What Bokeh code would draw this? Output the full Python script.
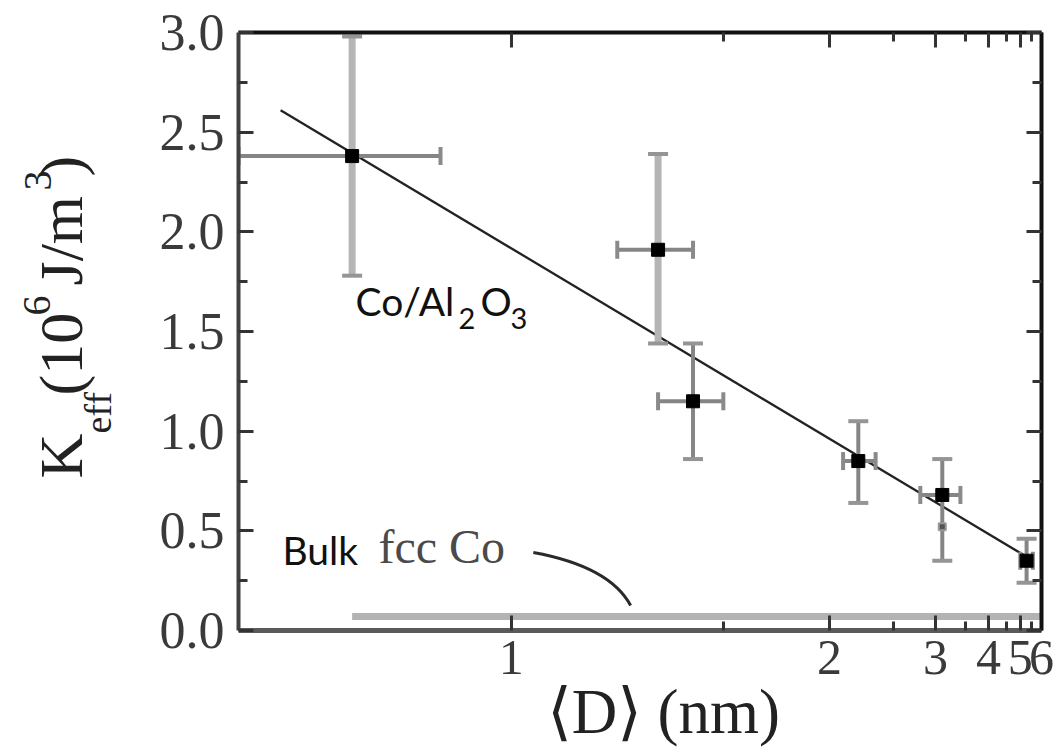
import math
from bokeh.plotting import figure
from bokeh.layouts import row, column
from bokeh.models import (Range1d, LinearAxis, FixedTicker, CustomJSTickFormatter,
                          PrintfTickFormatter, Label, ColumnDataSource)
from bokeh.embed import file_html
from bokeh.resources import INLINE

# ---------------- data ----------------
D_nm      = [0.8, 1.3, 1.4, 2.2, 3.1, 5.26]      # mean particle size <D> (nm)
K_eff     = [2.38, 1.91, 1.15, 0.85, 0.68, 0.35]  # K_eff (10^6 J/m^3)
D_low     = [0.7, 1.2, 1.3, 2.09, 2.80, 5.0]
D_high    = [0.9, 1.4, 1.5, 2.34, 3.40, 5.55]
K_low     = [1.78, 1.44, 0.86, 0.64, 0.35, 0.24]
K_high    = [2.98, 2.39, 1.44, 1.05, 0.86, 0.46]
vbar_kind = ["light", "light", "dark", "dark", "dark", "dark"]

extra_D = [3.1]      # faint secondary point
extra_K = [0.52]

fit_D = [0.734, 5.26]   # linear fit (straight in 1/D)
fit_K = [2.61, 0.37]

bulk_D = [0.8, 6.0]     # bulk fcc Co anisotropy
bulk_K = [0.07, 0.07]

leader_D = [1.036, 1.183, 1.231]   # start, control, end of the pointer curve
leader_K = [0.391, 0.321, 0.125]

x_major_D = [1, 2, 3, 4, 5, 6]
x_minor_D = [1.5, 2.5, 3.5, 4.5, 5.5]
y_major = [0.0, 0.5, 1.0, 1.5, 2.0, 2.5, 3.0]
y_minor = [0.25, 0.75, 1.25, 1.75, 2.25, 2.75]

x_title = "\u27e8D\u27e9 (nm)"
D_MIN, D_MAX = 0.7, 6.0
# ----------------------------------------------------------------

inv = lambda arr: [1.0 / d for d in arr]

W, H = 1061, 750
YW = 150            # width of the strip holding the y-axis title
FL, FR, FT, FB = 238, 1041, 32, 630   # frame edges in page pixels
U0, U1 = 1.0 / D_MIN, 1.0 / D_MAX
BASE_FIX = 0.4      # em offset compensating where the renderer puts the baseline
SERIF = "Liberation Serif, DejaVu Sans"
SANS = "Lato"


def ux(px):
    return U0 + (px - FL) * (U1 - U0) / (FR - FL)


def ky(py):
    return 3.0 * (FB - py) / (FB - FT)


def bare(fig):
    fig.outline_line_color = None
    fig.grid.visible = False
    fig.background_fill_color = "white"
    fig.border_fill_color = "white"
    return fig


MW = W - YW
p = bare(figure(width=MW, height=H, x_range=Range1d(U0, U1), y_range=Range1d(0, 3),
                output_backend="svg", toolbar_location=None,
                x_axis_location=None, y_axis_location=None,
                min_border_left=FL - YW, min_border_right=W - FR,
                min_border_top=FT, min_border_bottom=H - FB))

xt = FixedTicker(ticks=inv(x_major_D), minor_ticks=inv(x_minor_D))
yt = FixedTicker(ticks=y_major, minor_ticks=y_minor)
xfmt = CustomJSTickFormatter(code="return String(Math.round(1/tick));")
blank = CustomJSTickFormatter(code="return '';")


def style(ax, color, width):
    ax.axis_line_color = color
    ax.axis_line_width = width
    ax.major_tick_in = 15
    ax.major_tick_out = 0
    ax.minor_tick_in = 9
    ax.minor_tick_out = 0
    ax.major_tick_line_width = 3
    ax.minor_tick_line_width = 3
    ax.major_tick_line_color = "#333333"
    ax.minor_tick_line_color = "#333333"
    ax.major_label_text_font = "Liberation Serif"
    ax.major_label_text_font_size = "52px"
    ax.major_label_text_color = "#3a3a3a"


# leading no-break spaces nudge the centred title to the right, as in the reference
bottom = LinearAxis(ticker=xt, formatter=xfmt, major_label_standoff=10,
                    axis_label="\u00a0\u00a0\u00a0" + x_title, axis_label_standoff=0,
                    axis_label_text_font=SERIF, axis_label_text_font_size="63px",
                    axis_label_text_font_style="normal", axis_label_text_color="#222222")
style(bottom, "#5a5a5a", 5)
bottom.major_label_text_font_size = "50px"
p.add_layout(bottom, "below")

top = LinearAxis(ticker=xt, formatter=blank)
style(top, "#111111", 4)
top.major_label_text_font_size = "1px"
p.add_layout(top, "above")

left = LinearAxis(ticker=yt, formatter=PrintfTickFormatter(format="%.1f"),
                  major_label_standoff=14)
style(left, "#404040", 4)
p.add_layout(left, "left")

right = LinearAxis(ticker=yt, formatter=blank)
style(right, "#111111", 4)
right.major_label_text_font_size = "1px"
p.add_layout(right, "right")

# bulk fcc Co line
p.line(inv(bulk_D), bulk_K, line_color="#b3b3b3", line_width=7)

# fit line
p.line(inv(fit_D), fit_K, line_color="#222222", line_width=2.3)

# error bars
src = ColumnDataSource(dict(u=inv(D_nm), k=K_eff, ulo=inv(D_low), uhi=inv(D_high),
                            klo=K_low, khi=K_high,
                            vcol=["#b5b5b5" if v == "light" else "#858585" for v in vbar_kind],
                            vw=[7 if v == "light" else 4 for v in vbar_kind]))
p.segment(x0="u", y0="klo", x1="u", y1="khi", source=src, line_color="vcol", line_width="vw")
p.segment(x0="ulo", y0="k", x1="uhi", y1="k", source=src, line_color="#858585", line_width=4)
# caps
p.scatter(x="u", y="klo", source=src, marker="dash", size=20, line_color="#959595", line_width=4)
p.scatter(x="u", y="khi", source=src, marker="dash", size=20, line_color="#959595", line_width=4)
p.scatter(x="ulo", y="k", source=src, marker="dash", angle=math.pi / 2, size=18,
          line_color="#8a8a8a", line_width=4)
p.scatter(x="uhi", y="k", source=src, marker="dash", angle=math.pi / 2, size=18,
          line_color="#8a8a8a", line_width=4)

# markers
p.scatter(inv(extra_D), extra_K, marker="square", size=7, fill_color="#555555",
          line_color="#999999", line_width=2)
p.scatter(x="u", y="k", source=src, marker="square", size=13, fill_color="black",
          line_color="black")

# pointer curve
lu = inv(leader_D)
p.quadratic(x0=[lu[0]], y0=[leader_K[0]], cx=[lu[1]], cy=[leader_K[1]],
            x1=[lu[2]], y1=[leader_K[2]], line_color="#2a2a2a", line_width=3)


def lab(fig, x, y, text, font, size, color="#111111", angle=0.0, align="left"):
    fig.add_layout(Label(x=x, y=y, text=text, text_font=font,
                         text_font_size=f"{size}px", text_color=color, angle=angle,
                         text_align=align, text_baseline="alphabetic"))


# in-plot annotations: (text, left x, baseline y) in page pixels
for t, px, py, fnt, sz, col in [
        ("Co/Al", 355, 316, SANS, 39, "#111111"),
        ("2", 458, 330, SANS, 29, "#111111"),
        ("O", 480, 316, SANS, 39, "#111111"),
        ("3", 510, 330, SANS, 29, "#111111"),
        ("Bulk", 282, 565, SANS, 39, "#111111"),
        ("fcc Co", 378, 565, "Liberation Serif", 48, "#4a4a4a")]:
    lab(p, ux(px), ky(py - BASE_FIX * sz), t, fnt, sz, col)

# y-axis title strip (data units = page pixels, y measured from the bottom)
yfig = bare(figure(width=YW, height=H, x_range=Range1d(0, YW), y_range=Range1d(0, H),
                   output_backend="svg", toolbar_location=None,
                   x_axis_location=None, y_axis_location=None, min_border=0))
R = math.pi / 2
for t, px, py, sz in [("K", 85, 478, 62), ("eff", 113, 433, 38), ("(10", 85, 395, 62),
                      ("6", 52, 315, 40), ("J/m", 85, 285, 62), ("3", 53, 190, 40),
                      (")", 85, 176, 62)]:
    lab(yfig, px - BASE_FIX * sz, H - py, t, "Liberation Serif", sz, "#222222", R)

# the column wrapper keeps the title strip from being frame-aligned with the plot
layout = row(yfig, column(p))
open("out.html", "w").write(file_html(layout, INLINE))
